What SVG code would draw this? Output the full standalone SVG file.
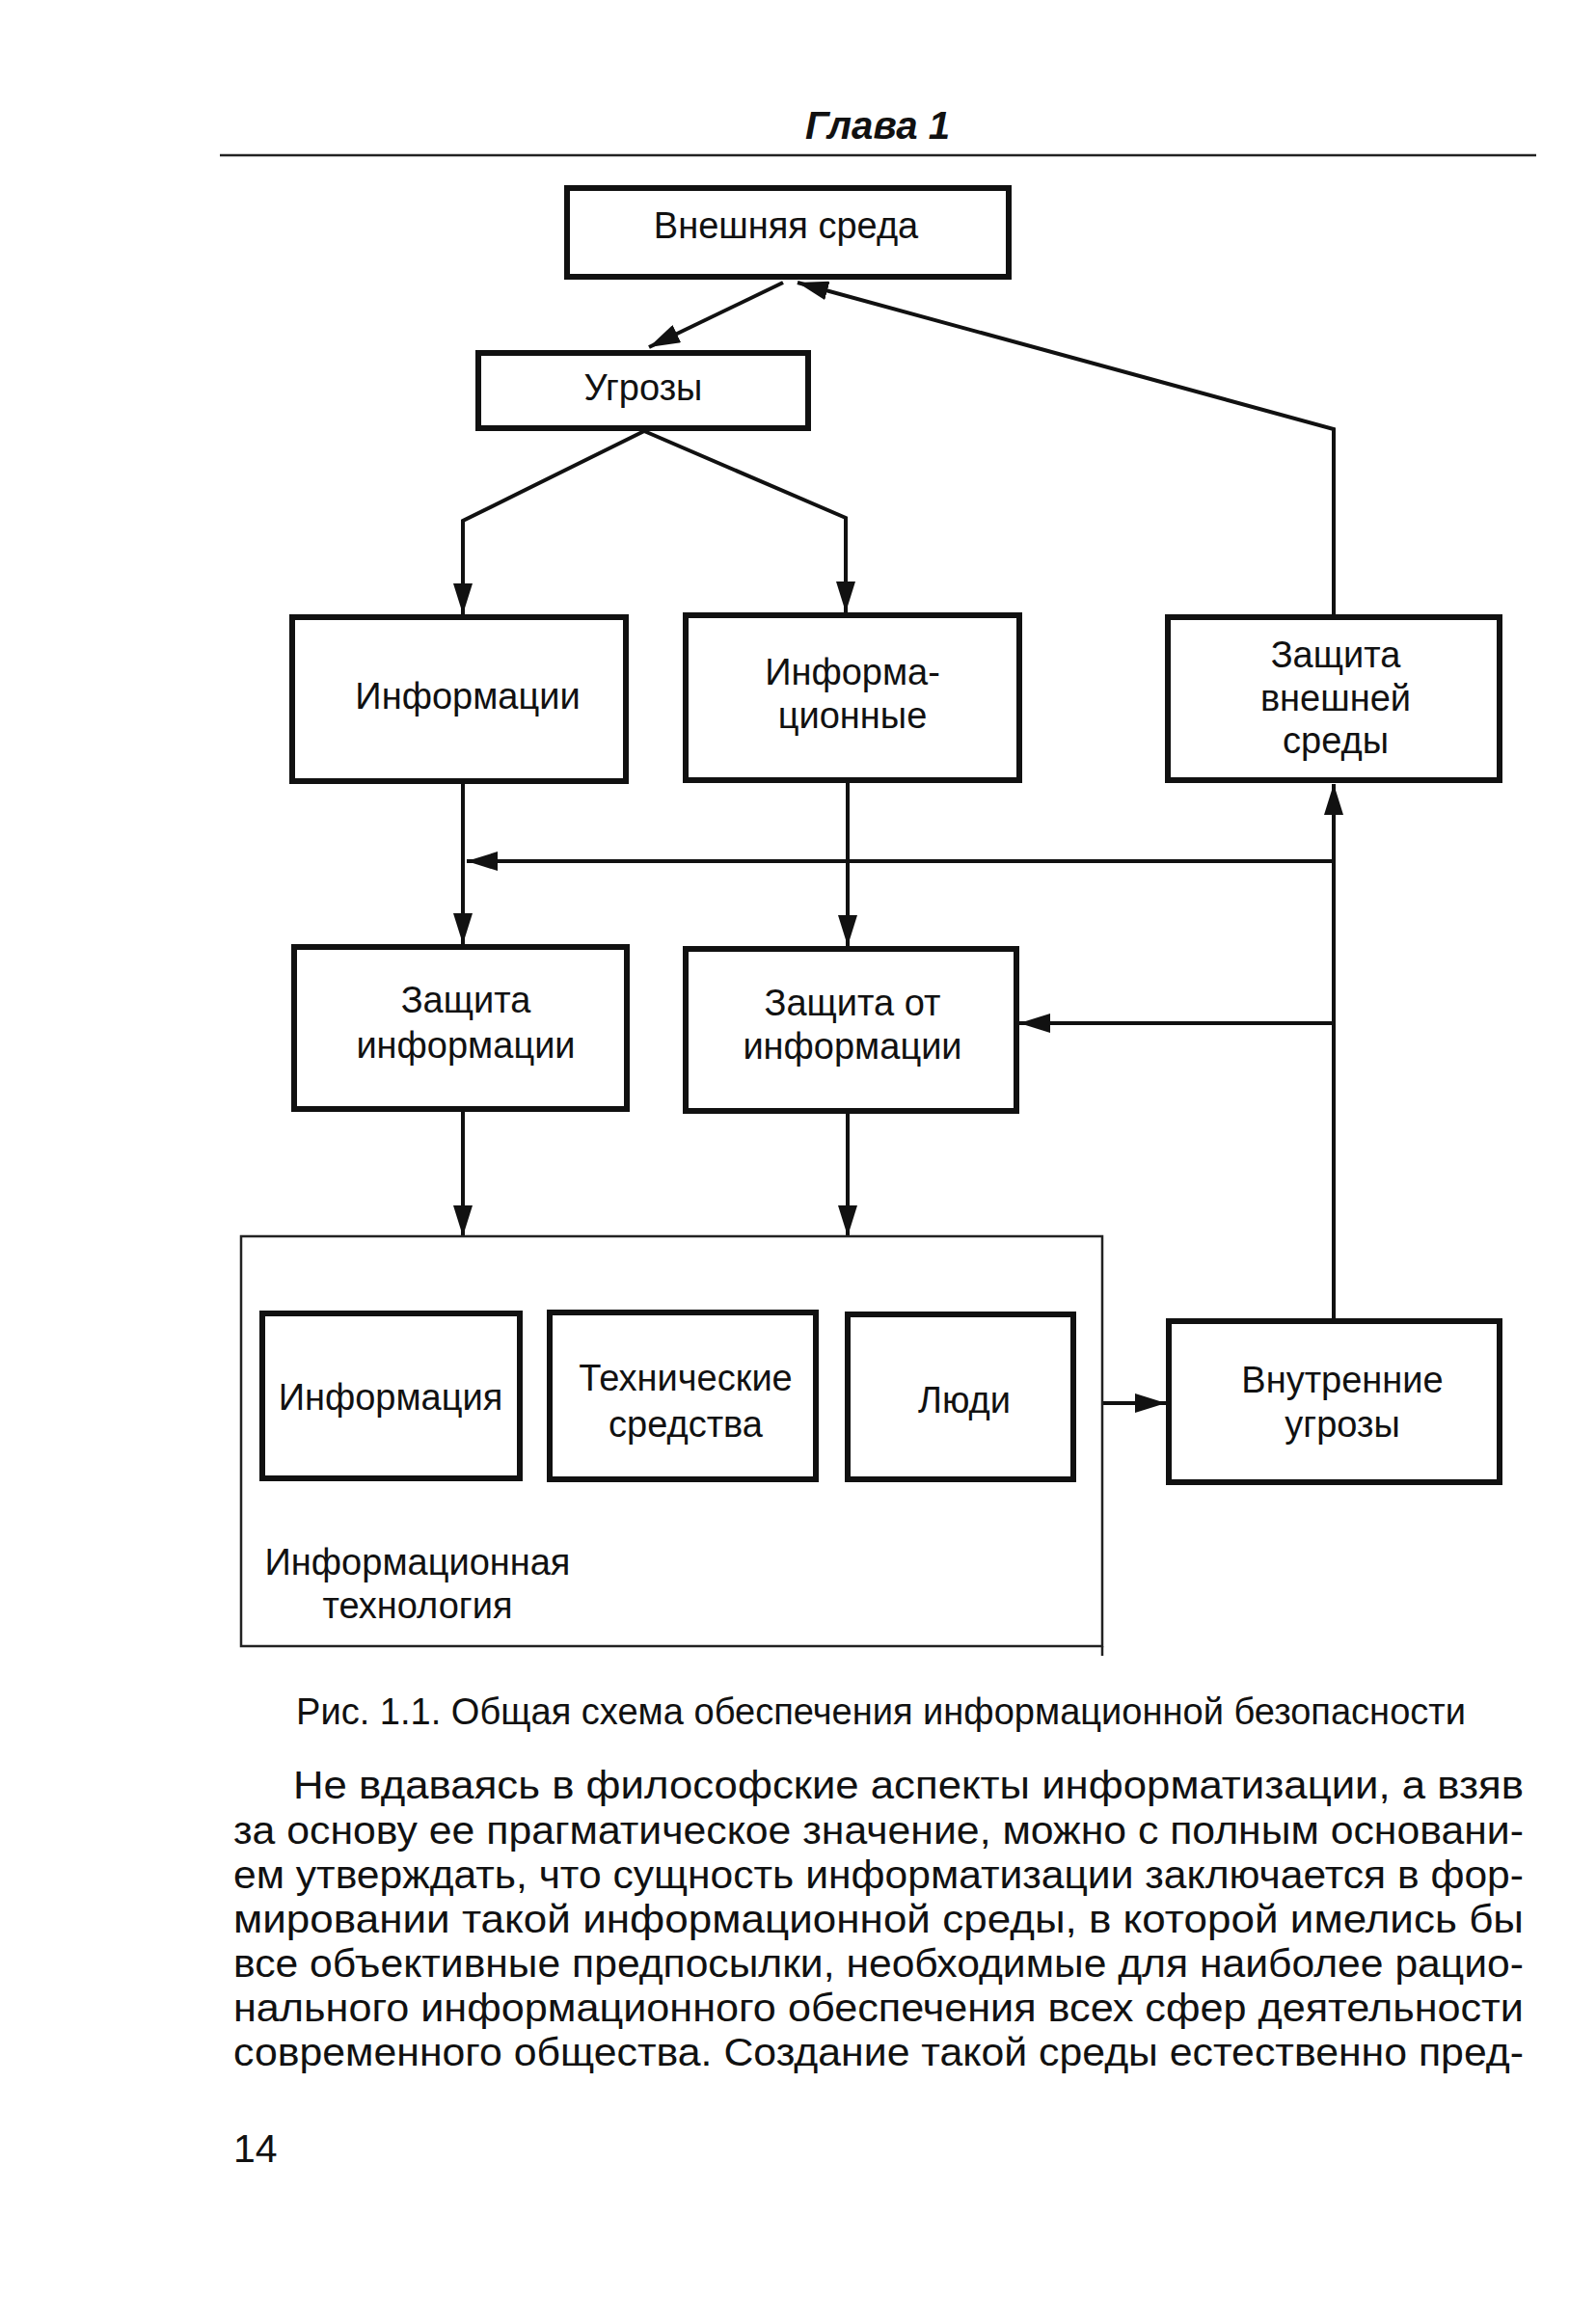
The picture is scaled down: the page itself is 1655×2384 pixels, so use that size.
<svg xmlns="http://www.w3.org/2000/svg" width="1655" height="2384" viewBox="0 0 1655 2384">
<defs>
<style>
.box{fill:#fff;stroke:#111;stroke-width:6}
.cont{fill:none;stroke:#222;stroke-width:2.5}
.lbl{font-family:"Liberation Sans",Arial,sans-serif;font-size:38px;fill:#111;text-anchor:middle}
.con{fill:none;stroke:#111;stroke-width:4;stroke-linejoin:miter}
.txt{font-family:"Liberation Sans",Arial,sans-serif;font-size:38px;fill:#111}
.body{font-family:"Liberation Sans",Arial,sans-serif;font-size:41px;fill:#111}
</style>
<marker id="ah" markerWidth="32" markerHeight="20" refX="32" refY="10" orient="auto" markerUnits="userSpaceOnUse">
<path d="M0,0 L32,10 L0,20 z" fill="#111"/>
</marker>
</defs>
<rect width="1655" height="2384" fill="#fff"/>

<g id="header">
<text x="835" y="144" textLength="150" lengthAdjust="spacingAndGlyphs" style="font-family:'Liberation Sans',Arial,sans-serif;font-size:40px;font-weight:bold;font-style:italic;fill:#111">Глава 1</text>
<line x1="228" y1="161" x2="1593" y2="161" stroke="#222" stroke-width="2.5"/>
</g>

<g id="connectors">
<line class="con" x1="812" y1="293" x2="673" y2="360" marker-end="url(#ah)"/>
<polyline class="con" points="1383,637 1383,445 827,293" marker-end="url(#ah)"/>
<polyline class="con" points="668,447 480,540 480,637" marker-end="url(#ah)"/>
<polyline class="con" points="668,447 877,537 877,635" marker-end="url(#ah)"/>
<line class="con" x1="480" y1="813" x2="480" y2="979" marker-end="url(#ah)"/>
<line class="con" x1="879" y1="812" x2="879" y2="981" marker-end="url(#ah)"/>
<line class="con" x1="1383" y1="1367" x2="1383" y2="813" marker-end="url(#ah)"/>
<line class="con" x1="1383" y1="893" x2="484" y2="893" marker-end="url(#ah)"/>
<line class="con" x1="1383" y1="1061" x2="1057" y2="1061" marker-end="url(#ah)"/>
<line class="con" x1="480" y1="1153" x2="480" y2="1282" marker-end="url(#ah)"/>
<line class="con" x1="879" y1="1155" x2="879" y2="1282" marker-end="url(#ah)"/>
<line class="con" x1="1143" y1="1455" x2="1209" y2="1455" marker-end="url(#ah)"/>
</g>

<g id="vneshnyaya-sreda">
<rect class="box" x="588" y="195" width="458" height="92"/>
<text class="lbl" x="815" y="247">Внешняя среда</text>
</g>
<g id="ugrozy">
<rect class="box" x="496" y="366" width="342" height="78"/>
<text class="lbl" x="667" y="415">Угрозы</text>
</g>
<g id="informatsii">
<rect class="box" x="303" y="640" width="346" height="170"/>
<text class="lbl" x="485" y="735">Информации</text>
</g>
<g id="informatsionnye">
<rect class="box" x="711" y="638" width="346" height="171"/>
<text class="lbl" x="884" y="710">Информа-</text>
<text class="lbl" x="884" y="755">ционные</text>
</g>
<g id="zashchita-vneshnei-sredy">
<rect class="box" x="1211" y="640" width="344" height="169"/>
<text class="lbl" x="1385" y="692">Защита</text>
<text class="lbl" x="1385" y="737">внешней</text>
<text class="lbl" x="1385" y="781">среды</text>
</g>
<g id="zashchita-informatsii">
<rect class="box" x="305" y="982" width="345" height="168"/>
<text class="lbl" x="483" y="1050">Защита</text>
<text class="lbl" x="483" y="1097">информации</text>
</g>
<g id="zashchita-ot-informatsii">
<rect class="box" x="711" y="984" width="343" height="168"/>
<text class="lbl" x="884" y="1053">Защита от</text>
<text class="lbl" x="884" y="1098">информации</text>
</g>

<g id="informatsionnaya-tekhnologiya">
<rect class="cont" x="250" y="1282" width="893" height="425"/>
<line x1="1143" y1="1707" x2="1143" y2="1717" stroke="#222" stroke-width="2.5"/>
<text class="lbl" x="433" y="1633">Информационная</text>
<text class="lbl" x="433" y="1678">технология</text>
</g>
<g id="informatsiya">
<rect class="box" x="272" y="1362" width="267" height="171"/>
<text class="lbl" x="405" y="1462">Информация</text>
</g>
<g id="tekhnicheskie-sredstva">
<rect class="box" x="570" y="1361" width="276" height="173"/>
<text class="lbl" x="711" y="1442">Технические</text>
<text class="lbl" x="711" y="1490">средства</text>
</g>
<g id="lyudi">
<rect class="box" x="879" y="1363" width="234" height="171"/>
<text class="lbl" x="1000" y="1465">Люди</text>
</g>
<g id="vnutrennie-ugrozy">
<rect class="box" x="1212" y="1370" width="343" height="167"/>
<text class="lbl" x="1392" y="1444">Внутренние</text>
<text class="lbl" x="1392" y="1490">угрозы</text>
</g>

<g id="caption">
<text class="txt" x="307" y="1788" textLength="1213" lengthAdjust="spacingAndGlyphs">Рис. 1.1. Общая схема обеспечения информационной безопасности</text>
</g>

<g id="body">
<text class="body" x="304" y="1865" textLength="1276" lengthAdjust="spacingAndGlyphs">Не вдаваясь в философские аспекты информатизации, а взяв</text>
<text class="body" x="242" y="1912" textLength="1338" lengthAdjust="spacingAndGlyphs">за основу ее прагматическое значение, можно с полным основани-</text>
<text class="body" x="242" y="1958" textLength="1338" lengthAdjust="spacingAndGlyphs">ем утверждать, что сущность информатизации заключается в фор-</text>
<text class="body" x="242" y="2004" textLength="1338" lengthAdjust="spacingAndGlyphs">мировании такой информационной среды, в которой имелись бы</text>
<text class="body" x="242" y="2050" textLength="1338" lengthAdjust="spacingAndGlyphs">все объективные предпосылки, необходимые для наиболее рацио-</text>
<text class="body" x="242" y="2096" textLength="1338" lengthAdjust="spacingAndGlyphs">нального информационного обеспечения всех сфер деятельности</text>
<text class="body" x="242" y="2142" textLength="1338" lengthAdjust="spacingAndGlyphs">современного общества. Создание такой среды естественно пред-</text>
<text class="body" x="242" y="2242">14</text>
</g>
</svg>
